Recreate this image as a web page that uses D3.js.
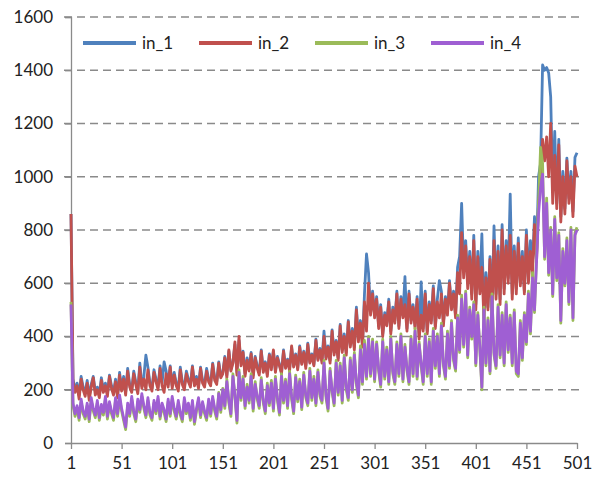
<!DOCTYPE html>
<html><head><meta charset="utf-8">
<script src="https://cdn.jsdelivr.net/npm/d3@7"></script>
<style>
html,body{margin:0;padding:0;background:#fff;}
svg text{font-family:Lato,"Open Sans",sans-serif;fill:#222;}
</style></head>
<body><svg id="c" width="595" height="483"></svg>
<script>
const categories = d3.range(1, 502, 2);
const xTicks = [1, 51, 101, 151, 201, 251, 301, 351, 401, 451, 501];
const yTicks = [0, 200, 400, 600, 800, 1000, 1200, 1400, 1600];
const seriesNames = ["in_1", "in_2", "in_3", "in_4"];
const seriesColors = ["#4f81bd", "#c0504d", "#9bbb59", "#9f5fd3"];

const in_1 = [
860,240,200,225,180,250,210,190,235,175,220,250,195,210,180,245,200,225,185,255,215,190,240,180,265,
205,250,190,280,220,200,270,230,195,300,215,250,330,285,225,205,275,240,210,290,225,305,270,220,290,
215,265,225,205,285,230,210,270,240,220,290,225,250,215,285,235,220,280,240,225,300,245,230,305,250,
265,325,255,345,275,305,370,265,385,300,345,260,320,280,340,255,325,290,265,350,275,305,260,335,285,
345,270,325,295,265,350,285,315,280,360,290,335,280,365,300,345,290,375,305,335,295,390,315,355,310,
420,320,365,310,425,340,385,320,445,350,410,340,460,370,430,360,510,390,460,370,560,710,640,490,570,
480,550,440,520,410,490,450,540,420,510,460,570,440,550,480,625,430,570,460,520,440,550,400,605,430,
570,420,530,460,590,440,540,610,570,450,550,490,610,510,570,480,660,700,900,650,760,600,720,560,780,
520,720,580,785,480,640,510,700,500,815,560,740,540,820,580,760,620,935,560,740,580,770,600,720,570,
800,620,760,660,850,700,1000,1050,1420,1400,1410,1390,1300,950,1170,900,1140,850,1020,880,1070,920,1020,870,1073,
1090];
const in_2 = [
860,230,190,215,165,240,200,175,225,160,210,245,180,200,170,235,190,215,175,250,205,180,230,170,255,
195,240,180,270,210,190,260,220,185,285,205,240,200,275,215,195,265,230,200,280,215,190,260,210,285,
205,255,215,195,275,220,200,260,230,210,285,215,240,205,280,225,210,270,230,215,295,235,220,300,245,
260,320,245,350,270,300,380,255,400,290,340,250,310,270,335,245,320,280,255,345,265,300,250,330,275,
350,265,320,290,260,345,280,310,270,365,285,330,275,360,295,340,280,370,300,330,290,385,310,350,300,
400,315,360,300,420,330,380,310,440,340,400,330,455,360,420,350,500,380,450,360,530,420,600,480,560,
470,540,430,510,400,480,440,530,410,500,450,560,430,540,470,520,420,560,450,510,430,540,390,480,420,
560,410,520,450,580,430,530,470,560,440,540,480,600,500,560,470,640,560,790,620,740,580,700,540,760,
500,700,560,660,470,620,500,690,480,760,540,720,520,800,560,740,600,780,540,720,560,750,590,700,560,
780,600,720,640,820,680,900,980,1140,1060,1150,1000,1200,900,1080,880,1120,830,1000,860,1060,900,1000,850,1040,
1000];
const in_3 = [
530,140,100,130,85,155,110,90,140,80,160,120,95,150,85,135,105,165,90,145,110,85,160,100,170,
120,85,50,140,100,165,110,80,155,115,175,130,95,160,105,85,150,110,165,90,140,115,80,155,100,
165,120,90,150,105,80,160,110,140,85,150,70,120,160,95,145,110,85,155,100,165,120,90,190,115,
205,130,240,150,100,260,170,75,275,160,250,130,220,150,260,120,230,165,130,245,150,110,225,140,235,
120,250,160,105,260,150,240,130,270,165,110,255,155,240,125,265,170,140,280,160,250,140,275,175,150,
310,170,120,280,190,140,310,180,300,150,330,200,160,320,190,340,220,170,365,220,385,240,400,250,390,
230,380,270,210,390,240,360,220,400,260,220,380,250,410,230,370,270,220,400,250,430,240,380,290,220,
410,250,390,220,430,280,410,250,450,290,240,420,280,460,310,270,480,340,555,360,570,320,510,390,530,
290,490,350,200,510,290,470,260,560,330,280,520,320,490,290,530,340,480,290,500,260,250,460,310,490,
370,570,410,640,490,700,900,1110,1050,690,920,630,810,550,850,610,790,450,730,590,770,520,810,460,790,
810];
const in_4 = [
520,150,110,140,95,165,120,100,150,90,170,130,105,160,95,145,115,175,100,155,120,95,170,110,180,
130,95,60,150,110,175,120,90,165,125,185,140,105,170,115,95,160,120,175,100,150,125,90,165,110,
175,130,100,160,115,90,170,120,150,95,160,80,130,170,105,155,120,95,165,110,175,130,100,185,125,
200,140,230,160,110,250,180,85,265,170,240,140,210,160,250,130,220,175,140,235,160,120,215,150,225,
130,240,170,115,250,160,230,140,260,175,120,245,165,230,135,255,180,150,270,170,240,150,265,185,160,
300,180,130,270,200,150,300,190,290,160,320,210,170,310,200,330,230,180,350,230,370,250,390,260,380,
240,370,280,220,380,250,350,230,390,270,230,370,260,400,240,360,280,230,390,260,420,250,370,300,230,
400,260,380,230,420,290,400,260,440,300,250,410,290,450,320,280,470,350,540,370,560,330,500,400,520,
300,480,360,210,500,300,460,270,550,340,290,510,330,480,300,520,350,470,300,490,270,260,450,320,480,
380,560,420,620,500,680,860,960,1010,700,900,640,800,560,840,620,780,460,720,600,760,530,800,470,780,
800];

const seriesData = [in_1, in_2, in_3, in_4];

const svg = d3.select("#c");
const x = d3.scaleLinear().domain([1, 501]).range([71, 577]);
const y = d3.scaleLinear().domain([0, 1600]).range([443, 17]);

svg.append("g").selectAll("line").data(yTicks.filter(d => d > 0)).join("line")
  .attr("x1", 64).attr("x2", 581)
  .attr("y1", d => y(d)).attr("y2", d => y(d))
  .attr("stroke", "#8a8a8a").attr("stroke-width", 1.3)
  .attr("stroke-dasharray", "8,5");

const yAxis = svg.append("g").attr("transform", "translate(71,0)")
  .call(d3.axisLeft(y).tickValues(yTicks).tickSize(6).tickPadding(12).tickFormat(d3.format("d")));
yAxis.select(".domain").attr("stroke", "#8a8a8a").attr("stroke-width", 1.3);
yAxis.selectAll(".tick line").attr("stroke", "#8a8a8a").attr("stroke-width", 1.3);
yAxis.selectAll("text").style("font-size", "17px").attr("fill", "#222");

const xAxis = svg.append("g").attr("transform", "translate(0,443)")
  .call(d3.axisBottom(x).tickValues(xTicks).tickSize(6).tickSizeOuter(0).tickPadding(8).tickFormat(d3.format("d")));
xAxis.select(".domain").attr("stroke", "#8a8a8a").attr("stroke-width", 1.3);
xAxis.selectAll(".tick line").attr("stroke", "#8a8a8a").attr("stroke-width", 1.3);
xAxis.selectAll("text").style("font-size", "17px").attr("fill", "#222");

const line = d3.line().x((d, i) => x(categories[i])).y(d => y(d));
seriesData.forEach((s, k) => {
  svg.append("path").datum(s)
    .attr("d", line)
    .attr("fill", "none")
    .attr("stroke", seriesColors[k])
    .attr("stroke-width", 2.8)
    .attr("stroke-linejoin", "round");
});

const leg = svg.append("g");
seriesNames.forEach((n, k) => {
  const x0 = 83 + k * 116;
  leg.append("line").attr("x1", x0).attr("x2", x0 + 53).attr("y1", 43).attr("y2", 43)
    .attr("stroke", seriesColors[k]).attr("stroke-width", 4);
  leg.append("text").attr("x", x0 + 59).attr("y", 49).style("font-size", "17px").text(n);
});
</script>
</body></html>
